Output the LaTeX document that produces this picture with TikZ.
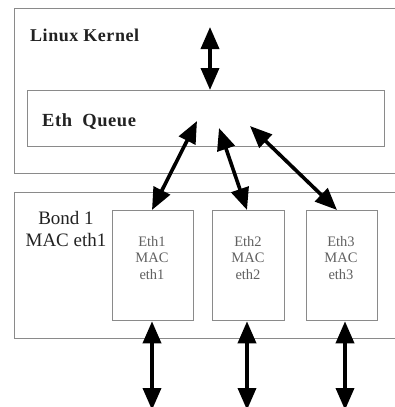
\documentclass[tikz,border=0pt]{standalone}
\usepackage{fontspec}
\setmainfont{Liberation Serif}
\newfontfamily\widebold[LetterSpace=3]{Liberation Serif}
\usetikzlibrary{arrows.meta}
\definecolor{frame}{HTML}{8A8A8A}
\definecolor{ink}{HTML}{222222}
\definecolor{softink}{HTML}{606060}
\tikzset{
  panel/.style={draw=frame, line width=1.3pt, fill=white},
  ethbox/.style={draw=frame, line width=1.3pt, fill=white, minimum width=#1, minimum height=110pt, inner sep=0pt},
  lbl/.style={text=ink, inner sep=0pt, anchor=west},
  ethtext/.style={text=softink, font=\fontsize{14.5}{16.5}\selectfont, align=center, inner sep=0pt},
  bigarrow/.style={line width=3.6pt, black, {Triangle[length=22pt,width=18pt]}-{Triangle[length=22pt,width=18pt]}}
}
\begin{document}
\begin{tikzpicture}[x=1pt, y=-1pt]
\useasboundingbox (0,0) rectangle (395,407);
\clip (0,0) rectangle (395,407);

% Kernel area and its queue
\node[panel, anchor=north west, minimum width=390pt, minimum height=165pt, inner sep=0pt] (kernel) at (14,8) {};
\node[panel, anchor=north west, minimum width=357pt, minimum height=56pt, inner sep=0pt] (queue) at (27,90) {};
\node[lbl, font=\widebold\bfseries\fontsize{18}{20}\selectfont] (kname) at (30,35) {Linux Kernel};
\node[lbl, font=\widebold\bfseries\fontsize{18.5}{20}\selectfont] (qname) at (42,122) {Eth\ \ Queue};

% Bond area with the three ports
\node[panel, anchor=north west, minimum width=390pt, minimum height=146pt, inner sep=0pt] (bond) at (14,192) {};
\node[text=ink, font=\fontsize{19}{22}\selectfont, align=center, inner sep=0pt] (bname) at (66,229) {Bond 1\\MAC eth1};

\node[ethbox=81pt, anchor=north west] (eth1) at (112,210) {};
\node[ethbox=72pt, anchor=north west] (eth2) at (212,210) {};
\node[ethbox=71pt, anchor=north west] (eth3) at (306,210) {};

\node[ethtext] (t1) at (152,258) {Eth1\\MAC\\eth1};
\node[ethtext] (t2) at (248,258) {Eth2\\MAC\\eth2};
\node[ethtext] (t3) at (341,258) {Eth3\\MAC\\eth3};

% Anchor points for the data paths
\coordinate (up) at (210,27);
\coordinate (qin) at (210,90);
\coordinate (q1) at (197,121);
\coordinate (q2) at (219,128);
\coordinate (q3) at (250,126);
\coordinate (e1top) at (152,210);
\coordinate (e2top) at (247,210);
\coordinate (e3top) at (337,210);
\coordinate (w1) at (152,410);
\coordinate (w2) at (247,410);
\coordinate (w3) at (345,410);

\draw[bigarrow] (up) -- (qin);
\draw[bigarrow] (q1) -- (e1top);
\draw[bigarrow] (q2) -- (e2top);
\draw[bigarrow] (q3) -- (e3top);
\draw[bigarrow] (eth1.south -| w1) -- (w1);
\draw[bigarrow] (eth2.south -| w2) -- (w2);
\draw[bigarrow] (eth3.south -| w3) -- (w3);
\end{tikzpicture}
\end{document}
